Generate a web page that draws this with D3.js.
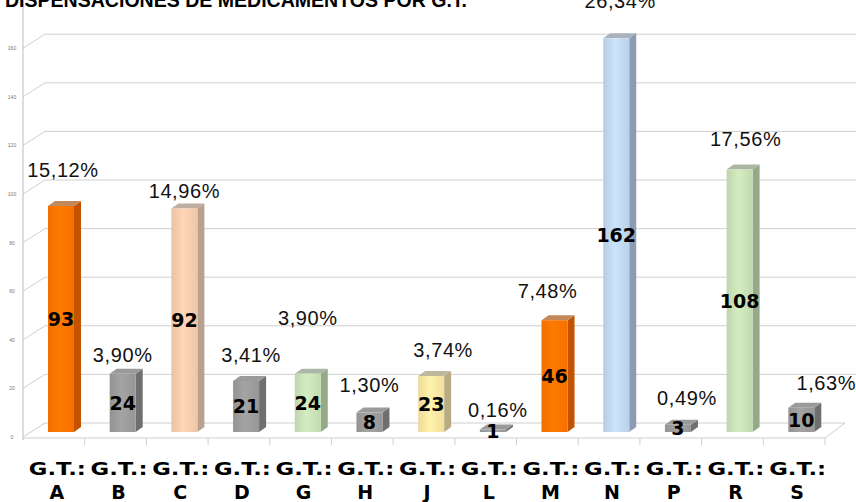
<!DOCTYPE html>
<html>
<head>
<meta charset="utf-8">
<script src="https://cdn.jsdelivr.net/npm/d3@7"></script>
<style>
  body { margin: 0; background: #fff; }
  svg { display: block; }
</style>
</head>
<body>
<div id="chart"></div>
<script>
// data
var groups = ["A", "B", "C", "D", "G", "H", "J", "L", "M", "N", "P", "R", "S"];
var counts = [93, 24, 92, 21, 24, 8, 23, 1, 46, 162, 3, 108, 10];
var shares = ["15,12%", "3,90%", "14,96%", "3,41%", "3,90%", "1,30%", "3,74%",
              "0,16%", "7,48%", "26,34%", "0,49%", "17,56%", "1,63%"];
var yTicks = [0, 20, 40, 60, 80, 100, 120, 140, 160];
var title = "DISPENSACIONES DE MEDICAMENTOS POR G.T.";

// styling / layout, kept apart from the values
var palette = {
    orange: ["#ff7400", "#c45300"],
    grey:   ["#9b9b9b", "#6f6f6f"],
    peach:  ["#f8cbad", "#b9a08f"],
    green:  ["#c9e1b6", "#94aa86"],
    yellow: ["#fbe6a2", "#b9ab80"],
    blue:   ["#c0d8f0", "#8c9db3"]
};
var barColor = ["orange", "grey", "peach", "grey", "green", "grey", "yellow",
                "grey", "orange", "blue", "grey", "green", "grey"];
// hand placed percentage labels: [dx, dy] from the bar top
var labelNudge = [[2, -29], [0, -12], [0, -10], [5, -19], [0, -49], [0, -21], [12, -19],
                  [5, -13], [-7, -22], [4, -30], [9, -20], [6, -24], [25, -18]];

function draw() {
    var w = 856, h = 502;
    var left = 23, right = 825;
    var depthX = 22, depthY = 14;   // offset of the back wall
    var barW = 26, sideW = 7, rise = 5;

    var svg = d3.select("#chart").append("svg")
        .attr("width", w)
        .attr("height", h);

    var defs = svg.append("defs");
    Object.keys(palette).forEach(function (k) {
        var g = defs.append("linearGradient").attr("id", "g-" + k);
        var c = d3.color(palette[k][0]);
        g.append("stop").attr("offset", "0%").attr("stop-color", c.darker(0.15));
        g.append("stop").attr("offset", "45%").attr("stop-color", c.brighter(0.15));
        g.append("stop").attr("offset", "100%").attr("stop-color", c.darker(0.1));
    });

    var xScale = d3.scaleBand()
        .domain(groups)
        .range([left, right]);

    // bar bases sit part way into the floor
    var yScale = d3.scaleLinear()
        .domain([0, 160])
        .range([432, 432 - 160 * 2.43]);

    // back gridlines + diagonals to the front axis
    var grid = svg.append("g").attr("stroke", "#cfcfcf").attr("fill", "none");
    yTicks.forEach(function (t) {
        var yf = yScale(t) + 5, yb = yScale(t) - 9;
        grid.append("path")
            .attr("d", "M" + left + "," + yf + "L" + (left + depthX) + "," + yb + "L" + (t === 0 ? right + depthX - 2 : w) + "," + yb);
    });

    // floor
    var floorY = yScale(0) + 6;
    grid.append("path")
        .attr("d", "M" + left + "," + floorY + "L" + right + "," + floorY + "L" + (right + depthX - 2) + "," + (floorY - depthY - 1));
    grid.selectAll("line.sep")
        .data(groups.slice(1).concat(["end"]))
        .enter().append("line")
        .attr("x1", function (d, i) { return left + (i + 1) * xScale.bandwidth(); })
        .attr("x2", function (d, i) { return left + (i + 1) * xScale.bandwidth(); })
        .attr("y1", floorY)
        .attr("y2", floorY + 7);

    // vertical axis line
    svg.append("line")
        .attr("x1", left).attr("x2", left)
        .attr("y1", 0).attr("y2", floorY + 2)
        .attr("stroke", "#bcbcbc");

    // tiny tick labels
    svg.append("g").selectAll("text")
        .data(yTicks)
        .enter().append("text")
        .attr("x", 12)
        .attr("y", function (d) { return yScale(d) + 7; })
        .attr("text-anchor", "middle")
        .style("font-family", "Liberation Sans, Arial, sans-serif")
        .style("font-size", "5px")
        .style("fill", "#777")
        .text(function (d) { return d; });

    var bars = svg.append("g").selectAll("g")
        .data(groups)
        .enter().append("g");

    function bx(d) { return xScale(d) + 25; }
    function top(i) { return yScale(counts[i]); }

    // side face
    bars.append("path")
        .attr("d", function (d, i) {
            var x = bx(d) + barW, yt = top(i), yb = yScale(0);
            return "M" + x + "," + yt + "L" + (x + sideW) + "," + (yt - rise) +
                   "L" + (x + sideW) + "," + (yb - rise) + "L" + x + "," + yb + "Z";
        })
        .attr("fill", function (d, i) { return palette[barColor[i]][1]; });

    // top face
    bars.append("path")
        .attr("d", function (d, i) {
            var x = bx(d), yt = top(i);
            return "M" + x + "," + yt + "L" + (x + barW) + "," + yt +
                   "L" + (x + barW + sideW) + "," + (yt - rise) + "L" + (x + sideW) + "," + (yt - rise) + "Z";
        })
        .attr("fill", function (d, i) {
            return d3.interpolateRgb(palette[barColor[i]][0], "#999")(0.6);
        });

    // front face
    bars.append("rect")
        .attr("x", bx)
        .attr("y", function (d, i) { return top(i); })
        .attr("width", barW)
        .attr("height", function (d, i) { return yScale(0) - top(i); })
        .attr("fill", function (d, i) { return "url(#g-" + barColor[i] + ")"; });

    // counts inside the bars
    bars.append("text")
        .attr("x", function (d) { return bx(d) + barW / 2; })
        .attr("y", function (d, i) { return (top(i) + yScale(0)) / 2 + 7; })
        .attr("text-anchor", "middle")
        .style("font-family", "DejaVu Sans, sans-serif")
        .style("font-weight", "bold")
        .style("font-size", "19px")
        .style("fill", "#000")
        .text(function (d, i) { return counts[i]; });

    // percentages above the bars
    bars.append("text")
        .attr("x", function (d, i) { return bx(d) + barW / 2 + labelNudge[i][0]; })
        .attr("y", function (d, i) { return top(i) + labelNudge[i][1]; })
        .attr("text-anchor", "middle")
        .style("font-family", "Liberation Sans, Arial, sans-serif")
        .style("font-size", "20px")
        .style("letter-spacing", "0.6px")
        .style("fill", "#111")
        .text(function (d, i) { return shares[i]; });

    // category labels
    var cats = svg.append("g").selectAll("g")
        .data(groups)
        .enter().append("g")
        .attr("transform", function (d) { return "translate(" + (xScale(d) + xScale.bandwidth() / 2 + 3) + ",0)"; })
        .style("font-family", "DejaVu Sans, sans-serif")
        .style("font-weight", "bold")
        .style("font-size", "18px")
        .style("fill", "#000")
        .attr("text-anchor", "middle");
    cats.append("text")
        .attr("x", -28)
        .attr("y", 475)
        .attr("text-anchor", "start")
        .attr("textLength", 57)
        .attr("lengthAdjust", "spacingAndGlyphs")
        .text("G.T.:");
    cats.append("text").attr("y", 499).style("font-size", "19px").text(function (d) { return d; });

    // title, clipped by the top of the picture
    svg.append("text")
        .attr("x", 5)
        .attr("y", 7)
        .attr("textLength", 462)
        .attr("lengthAdjust", "spacingAndGlyphs")
        .style("font-family", "Liberation Sans, Arial, sans-serif")
        .style("font-weight", "bold")
        .style("font-size", "20px")
        .text(title);
}

window.onload = draw;
</script>
</body>
</html>
